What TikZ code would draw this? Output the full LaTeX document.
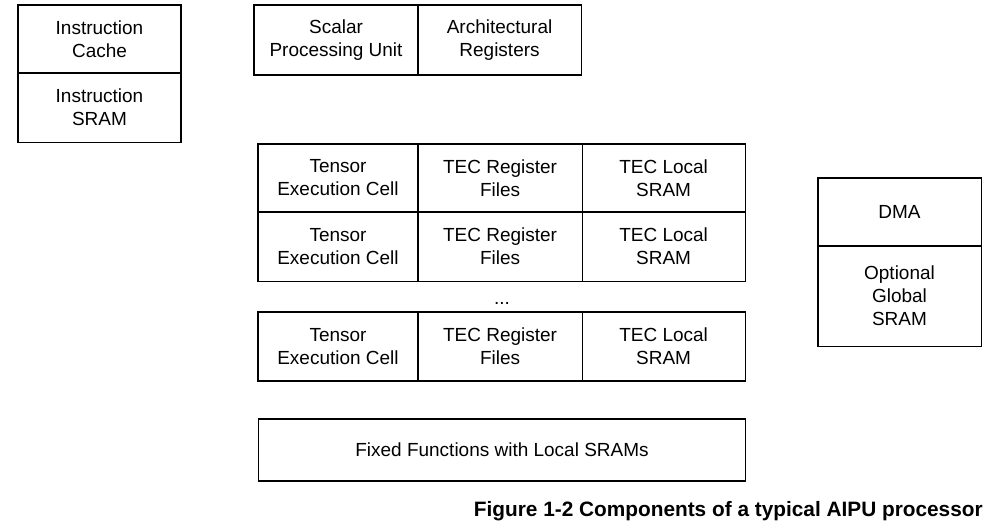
\documentclass[tikz,border=0pt]{standalone}
\usepackage{fontspec}
\setmainfont{Liberation Sans}
\usetikzlibrary{positioning}

\tikzset{
  unit/.style={draw, line width=0.75pt, align=center, inner sep=0pt, outer sep=0pt,
    font=\fontsize{13.5}{16.4}\selectfont},
  caption/.style={font=\fontsize{14.8}{17}\selectfont\bfseries, inner sep=0pt},
}

\begin{document}
\begin{tikzpicture}[x=0.025cm, y=-0.025cm]
        \useasboundingbox (0,0) rectangle (1002,529);

        % Instruction memory
        \node[unit, minimum width=4.075cm, minimum height=1.7cm] (icache) at (99.5,39) {Instruction\\Cache};
        \node[unit, minimum width=4.075cm, minimum height=1.725cm, below=0pt of icache] (isram) {Instruction\\SRAM};

        % Scalar part
        \node[unit, minimum width=4.1cm, minimum height=1.75cm] (spu) at (336,40) {Scalar\\Processing Unit};
        \node[unit, minimum width=4.075cm, minimum height=1.75cm, right=0pt of spu] (arch) {Architectural\\Registers};

        % Tensor execution cells
        \node[unit, minimum width=4.0cm, minimum height=1.7cm] (tec1) at (338,178) {Tensor\\Execution Cell};
        \node[unit, minimum width=4.1cm, minimum height=1.7cm, right=0pt of tec1] (reg1) {TEC Register\\Files};
        \node[unit, minimum width=4.075cm, minimum height=1.7cm, right=0pt of reg1] (loc1) {TEC Local\\SRAM};

        \node[unit, minimum width=4.0cm, minimum height=1.725cm, below=0pt of tec1] (tec2) {Tensor\\Execution Cell};
        \node[unit, minimum width=4.1cm, minimum height=1.725cm, right=0pt of tec2] (reg2) {TEC Register\\Files};
        \node[unit, minimum width=4.075cm, minimum height=1.725cm, right=0pt of reg2] (loc2) {TEC Local\\SRAM};

        \node[unit, draw=none] (dots) at (502,303) {...};

        \node[unit, minimum width=4.0cm, minimum height=1.725cm] (tec3) at (338,346.5) {Tensor\\Execution Cell};
        \node[unit, minimum width=4.1cm, minimum height=1.725cm, right=0pt of tec3] (reg3) {TEC Register\\Files};
        \node[unit, minimum width=4.075cm, minimum height=1.725cm, right=0pt of reg3] (loc3) {TEC Local\\SRAM};

        % DMA
        \node[unit, minimum width=4.075cm, minimum height=1.7cm] (dma) at (899.5,212) {DMA};
        \node[unit, minimum width=4.075cm, minimum height=2.5cm, below=0pt of dma] (gsram) {Optional\\Global\\SRAM};

        % Fixed functions
        \node[unit, minimum width=12.15cm, minimum height=1.55cm] (fixed) at (502,450) {Fixed Functions with Local SRAMs};

        % Caption
        \node[caption, anchor=east] (title) at (983,511) {Figure 1-2 Components of a typical AIPU processor};
    \end{tikzpicture}
\end{document}
